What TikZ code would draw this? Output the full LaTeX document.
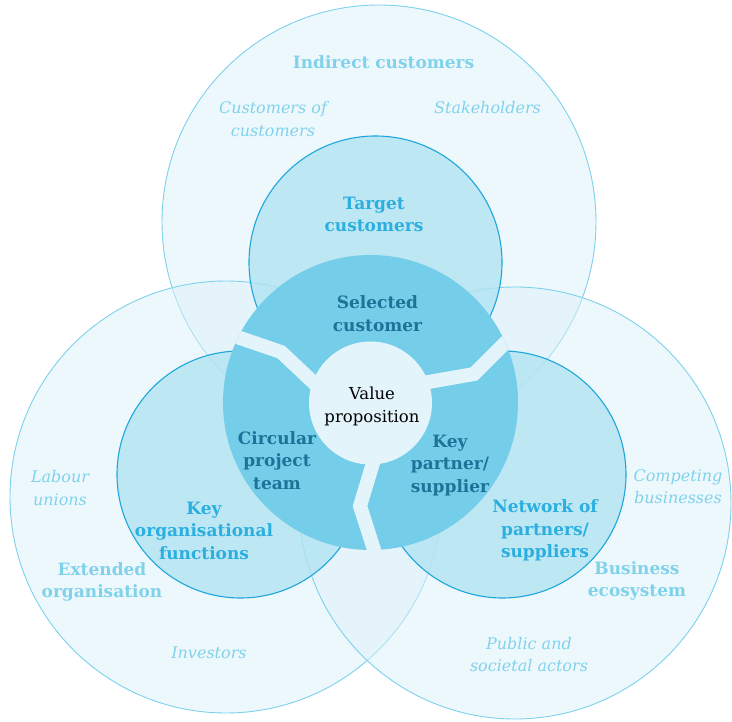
\documentclass[tikz,border=0pt]{standalone}
\usepackage{fontspec}
\setmainfont{DejaVu Serif}
\definecolor{bigfill}{HTML}{DCF1F9}
\definecolor{bigline}{HTML}{7DD1EC}
\definecolor{midfill}{HTML}{B1E3F2}
\definecolor{midline}{HTML}{1EA7DC}
\definecolor{corefill}{HTML}{74CDE9}
\definecolor{centrefill}{HTML}{E4F4FB}
\definecolor{darktext}{HTML}{1B7497}
\definecolor{midtext}{HTML}{2BAEE0}
\definecolor{lighttext}{HTML}{80D2EC}
\tikzset{
  bigcircle/.style={fill=bigfill, fill opacity=0.5, draw=bigline, draw opacity=1, line width=0.9pt},
  midcircle/.style={fill=midfill, fill opacity=0.8, draw=midline, draw opacity=1, line width=1.1pt},
  lbl/.style={align=center, inner sep=0pt, font=\fontsize{16.5}{23}\selectfont},
  biglbl/.style={lbl, text=lighttext, font=\fontsize{17}{22.5}\selectfont\bfseries},
  itlbl/.style={lbl, text=lighttext, font=\fontsize{16}{22.5}\selectfont\itshape},
  midlbl/.style={lbl, text=midtext, font=\fontsize{17}{22.5}\selectfont\bfseries},
  corelbl/.style={lbl, text=darktext, font=\fontsize{17}{22.5}\selectfont\bfseries},
  band/.style={draw=centrefill, line width=14pt, line join=miter}
}
\begin{document}
\begin{tikzpicture}[x=1pt,y=-1pt]
\useasboundingbox (0,0) rectangle (732,722);
% large outer circles
\path[bigcircle] (379,222) circle[radius=217];
\path[bigcircle] (226,497) circle[radius=216];
\path[bigcircle] (515,503) circle[radius=216];
% middle circles
\path[midcircle] (375.5,262.5) circle[radius=126.5];
\path[midcircle] (240.5,474.5) circle[radius=123.5];
\path[midcircle] (502.5,474.5) circle[radius=123.5];
% core circle
\fill[corefill] (370.5,402.5) circle[radius=147.5];
\begin{scope}
  \clip (370.5,402.5) circle[radius=147.5];
  \coordinate (b1a) at (205,326);
  \coordinate (b1b) at (281,352);
  \coordinate (b1c) at (330,398);
  \coordinate (b2a) at (535,313);
  \coordinate (b2b) at (474,374);
  \coordinate (b2c) at (400,387);
  \coordinate (b3a) at (387,590);
  \coordinate (b3b) at (360,506);
  \coordinate (b3c) at (380,440);
  \draw[band] (b1a) -- (b1b) -- (b1c);
  \draw[band] (b2a) -- (b2b) -- (b2c);
  \draw[band] (b3a) -- (b3b) -- (b3c);
\end{scope}
\fill[centrefill] (370.5,403) circle[radius=61.5];
% labels
\node[biglbl] (indirect) at (383.5,62) {Indirect customers};
\node[itlbl] (custcust) at (273,119) {Customers of\\customers};
\node[itlbl] (stake) at (487.5,108) {Stakeholders};
\node[midlbl] (target) at (374,214.5) {Target\\customers};
\node[corelbl] (selected) at (377.5,313.5) {Selected\\customer};
\node[lbl, text=black] (value) at (372,406.5) {Value\\proposition};
\node[corelbl] (circular) at (277,460.5) {Circular\\project\\team};
\node[corelbl] (keypartner) at (450,465.5) {Key\\partner/\\supplier};
\node[midlbl] (keyorg) at (204,530.5) {Key\\organisational\\functions};
\node[biglbl] (extended) at (102,582) {Extended\\organisation};
\node[itlbl] (labour) at (60,488) {Labour\\unions};
\node[itlbl] (investors) at (209,653) {Investors};
\node[midlbl] (network) at (545,530.5) {Network of\\partners/\\suppliers};
\node[itlbl] (competing) at (678,486.5) {Competing\\businesses};
\node[biglbl] (business) at (637,581) {Business\\ecosystem};
\node[itlbl] (public) at (529,654.5) {Public and\\societal actors};
\end{tikzpicture}
\end{document}
